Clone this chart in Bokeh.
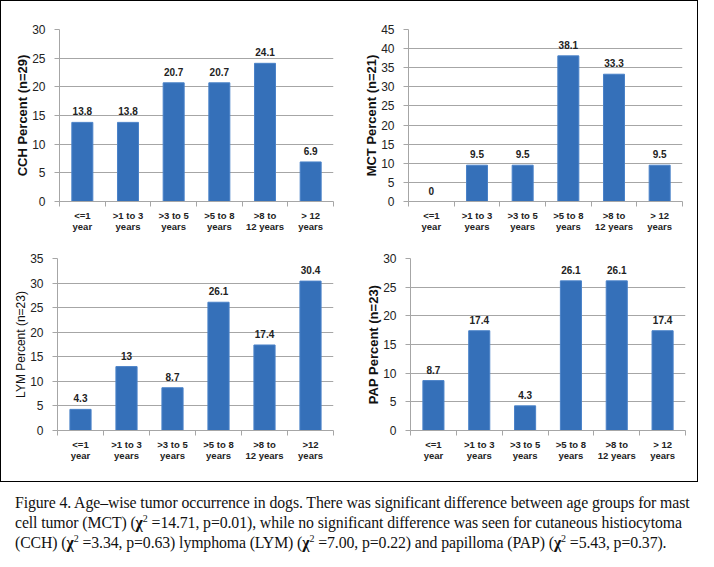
from bokeh.plotting import figure
from bokeh.models import FixedTicker, Div, Range1d
from bokeh.layouts import column, row
from bokeh.embed import file_html
from bokeh.resources import INLINE
from bokeh.core.properties import value

ages = ["<=1\nyear", ">1 to 3\nyears", ">3 to 5\nyears", ">5 to 8\nyears", ">8 to\n12 years", "> 12\nyears"]
ages_lym = ["<=1\nyear", ">1 to 3\nyears", ">3 to 5\nyears", ">5 to 8\nyears", ">8 to\n12 years", ">12\nyears"]
cch = [13.8, 13.8, 20.7, 20.7, 24.1, 6.9]
mct = [0, 9.5, 9.5, 38.1, 33.3, 9.5]
lym = [4.3, 13, 8.7, 26.1, 17.4, 30.4]
pap = [8.7, 17.4, 4.3, 26.1, 26.1, 17.4]

BAR = "#3570b9"
EDGE = "#4a82c8"
GRID = "#a6a6a6"
FONT = "Liberation Sans"


def make(vals, cats, ymax, ylabel, bold, w, h, left, right, top, bottom):
    p = figure(width=w, height=h, output_backend="svg", toolbar_location=None,
               x_range=Range1d(-0.5, len(cats) - 0.5), y_range=Range1d(0, ymax),
               min_border_left=left, min_border_right=right,
               min_border_top=top, min_border_bottom=bottom)
    p.outline_line_color = None
    xs = list(range(len(cats)))
    p.vbar(x=xs, top=vals, width=0.46, fill_color=BAR, line_color=EDGE)
    p.text(x=xs, y=vals, text=[f"{v:g}" for v in vals], text_align="center",
           text_baseline="bottom", y_offset=-7, text_font=value(FONT),
           text_font_style="bold", text_font_size="10px", text_color="#222222")
    # x axis
    p.xaxis.ticker = FixedTicker(ticks=xs, minor_ticks=[x - 0.5 for x in range(len(cats) + 1)])
    p.xaxis.major_label_overrides = {i: c for i, c in enumerate(cats)}
    p.xaxis.major_tick_line_color = None
    p.xaxis.major_tick_out = 0
    p.xaxis.major_tick_in = 0
    p.xaxis.minor_tick_line_color = GRID
    p.xaxis.minor_tick_in = 0
    p.xaxis.minor_tick_out = 5
    p.xaxis.axis_line_color = GRID
    p.xaxis.major_label_text_font = FONT
    p.xaxis.major_label_text_font_style = "bold"
    p.xaxis.major_label_text_font_size = "9.5px"
    p.xaxis.major_label_text_color = "#222222"
    p.xaxis.major_label_text_line_height = 1.0
    p.xaxis.major_label_standoff = 3
    p.xgrid.grid_line_color = None
    # y axis
    p.yaxis.ticker = FixedTicker(ticks=list(range(0, ymax + 1, 5)))
    p.yaxis.axis_line_color = GRID
    p.yaxis.major_tick_line_color = GRID
    p.yaxis.major_tick_in = 0
    p.yaxis.major_tick_out = 5
    p.yaxis.minor_tick_line_color = None
    p.yaxis.major_label_text_font = FONT
    p.yaxis.major_label_text_font_size = "12px"
    p.yaxis.major_label_text_color = "#222222"
    p.yaxis.major_label_standoff = 9
    p.yaxis.axis_label = ylabel
    p.yaxis.axis_label_text_font = FONT
    p.yaxis.axis_label_text_font_style = "bold" if bold else "normal"
    p.yaxis.axis_label_text_font_size = "13px" if bold else "12px"
    p.yaxis.axis_label_text_color = "#111111"
    p.yaxis.axis_label_standoff = -1
    p.ygrid.grid_line_color = GRID
    p.ygrid.grid_line_width = 1
    return p


tl = make(cch, ages, 30, "CCH Percent (n=29)", True, 348, 238, 58, 16, 28, 38)
tr = make(mct, ages, 45, "MCT Percent (n=21)", True, 348, 238, 59, 15, 23, 38)
bl = make(lym, ages_lym, 35, "LYM Percent (n=23)", False, 348, 242, 56, 16, 14, 51)
br = make(pap, ages, 30, "PAP Percent (n=23)", True, 348, 242, 61, 12, 19, 48)

box = column(row(tl, tr), row(bl, br), styles={"border": "1px solid black"})

SUP = '<sup style="font-size:10px;line-height:0">2</sup>'
caption = Div(
    text=("Figure 4. Age\u2013wise tumor occurrence in dogs. There was significant difference between age groups for mast<br>"
          f"cell tumor (MCT) (<b>\u03c7</b>{SUP} =14.71, p=0.01), while no significant difference was seen for cutaneous histiocytoma<br>"
          f"(CCH) (<b>\u03c7</b>{SUP} =3.34, p=0.63) lymphoma (LYM) (<b>\u03c7</b>{SUP} =7.00, p=0.22) and papilloma (PAP) (<b>\u03c7</b>{SUP} =5.43, p=0.37)."),
    width=698,
    styles={"font-family": "Liberation Serif", "font-size": "15.8px", "line-height": "20px",
            "color": "#111111", "white-space": "nowrap", "padding-left": "10px",
            "padding-top": "6px", "letter-spacing": "-0.1px"},
)

layout = column(box, caption)
open("out.html", "w").write(file_html(layout, INLINE))
